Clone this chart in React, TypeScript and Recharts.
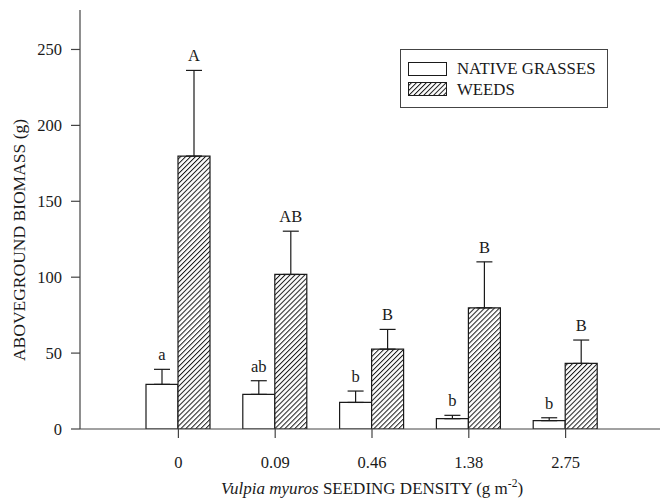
import { BarChart, Bar, XAxis, YAxis, ErrorBar, LabelList, Legend } from 'recharts'

const densities = ['0', '0.09', '0.46', '1.38', '2.75']
const nativeMean = [29.4, 22.8, 17.5, 6.8, 5.5]
const nativeErr = [9.9, 9.0, 7.5, 2.2, 1.9]
const nativeLetters = ['a', 'ab', 'b', 'b', 'b']
const weedMean = [179.8, 101.8, 52.6, 79.8, 43.2]
const weedErr = [56.4, 28.5, 13.0, 30.3, 15.4]
const weedLetters = ['A', 'AB', 'B', 'B', 'B']
const yTicks = [0, 50, 100, 150, 200, 250]

const FONT = 'Liberation Serif, Times New Roman, serif'
const INK = '#1a1a1a'
const AXIS = '#444'

const data = densities.map((d, i) => ({
  density: d,
  native: nativeMean[i],
  nativeErr: [0, nativeErr[i]],
  nativeLetter: nativeLetters[i],
  weeds: weedMean[i],
  weedErr: [0, weedErr[i]],
  weedLetter: weedLetters[i],
}))

// letter sits just above the error cap; pixel-per-unit taken from the bar itself
const makeLetter = (means: number[], errs: number[]) => (props: any) => {
  const { x, y, width, height, value, index } = props
  const k = height / means[index]
  const errTop = y - errs[index] * k
  return (
    <text
      x={x + width / 2}
      y={errTop - 9}
      textAnchor="middle"
      style={{ fontFamily: FONT }}
      fontSize={16.5}
      fill={INK}
    >
      {value}
    </text>
  )
}

const HatchDef = ({ id }: { id: string }) => (
  <pattern id={id} patternUnits="userSpaceOnUse" width={3.5} height={3.5} patternTransform="rotate(45)">
    <rect width={3.5} height={3.5} fill="#fff" />
    <line x1={0} y1={0} x2={0} y2={3.5} stroke={INK} strokeWidth={2} />
  </pattern>
)

const LegendBox = () => (
  <svg width={208} height={59} style={{ fontFamily: FONT }}>
    <defs>
      <HatchDef id="hatchLegend" />
    </defs>
    <rect x={0.5} y={0.5} width={207} height={58} fill="#fff" stroke={AXIS} strokeWidth={1} />
    <rect x={8.5} y={13.5} width={38} height={13} fill="#fff" stroke={INK} strokeWidth={1} />
    <rect x={8.5} y={33.5} width={38} height={13} fill="url(#hatchLegend)" stroke={INK} strokeWidth={1} />
    <text x={57} y={25} fontSize={16.8} fill={INK}>NATIVE GRASSES</text>
    <text x={57} y={46} fontSize={16.8} fill={INK}>WEEDS</text>
  </svg>
)

const YLabel = () => (
  <text
    x={25}
    y={240}
    transform="rotate(-90 25 240)"
    textAnchor="middle"
    style={{ fontFamily: FONT }}
    fontSize={17.5}
    fill={INK}
  >
    ABOVEGROUND BIOMASS (g)
  </text>
)

const XLabel = () => (
  <text x={372} y={494} textAnchor="middle" style={{ fontFamily: FONT }} fontSize={17} fill={INK}>
    <tspan fontStyle="italic">Vulpia myuros</tspan>
    <tspan> SEEDING DENSITY (g m</tspan>
    <tspan dy={-7} fontSize={11.5}>-2</tspan>
    <tspan dy={7}>)</tspan>
  </text>
)

const tickStyle = { fontFamily: FONT, fontSize: 16.5, fill: INK, style: { fontFamily: FONT } }

export default function App() {
  return (
    <div style={{ position: 'absolute', left: 0, top: 0, background: '#fff', fontFamily: FONT }}>
      <BarChart
        width={660}
        height={500}
        data={data}
        margin={{ top: 10, right: 0, bottom: 0, left: 0 }}
        barGap={0}
      >
        <defs>
          <HatchDef id="hatch" />
        </defs>
        <XAxis
          dataKey="density"
          xAxisId="top"
          orientation="top"
          height={0}
          tick={false}
          tickLine={false}
          axisLine={{ stroke: AXIS, strokeWidth: 1.2 }}
          padding={{ left: 50, right: 46 }}
        />
        <XAxis
          dataKey="density"
          height={71}
          padding={{ left: 50, right: 46 }}
          axisLine={{ stroke: AXIS, strokeWidth: 1.2 }}
          tickLine={{ stroke: AXIS, strokeWidth: 1.2 }}
          tickSize={9}
          tickMargin={18}
          tick={tickStyle}
          label={<XLabel />}
        />
        <YAxis
          width={80}
          domain={[0, 276]}
          ticks={yTicks}
          allowDataOverflow
          axisLine={{ stroke: AXIS, strokeWidth: 1.2 }}
          tickLine={{ stroke: AXIS, strokeWidth: 1.2 }}
          tickSize={9}
          tickMargin={9}
          tick={tickStyle}
          label={<YLabel />}
        />
        <Legend
          layout="horizontal"
          verticalAlign="middle"
          align="center"
          content={<LegendBox />}
          wrapperStyle={{ position: 'absolute', left: 400, top: 49, width: 208, height: 59 }}
        />
        <Bar dataKey="native" name="NATIVE GRASSES" barSize={32} fill="#fff" stroke={INK} strokeWidth={1.2} isAnimationActive={false}>
          <ErrorBar dataKey="nativeErr" width={8} stroke={INK} strokeWidth={1.2} direction="y" />
          <LabelList dataKey="nativeLetter" content={makeLetter(nativeMean, nativeErr)} />
        </Bar>
        <Bar dataKey="weeds" name="WEEDS" barSize={32} fill="url(#hatch)" stroke={INK} strokeWidth={1.2} isAnimationActive={false}>
          <ErrorBar dataKey="weedErr" width={8} stroke={INK} strokeWidth={1.2} direction="y" />
          <LabelList dataKey="weedLetter" content={makeLetter(weedMean, weedErr)} />
        </Bar>
      </BarChart>
    </div>
  )
}
